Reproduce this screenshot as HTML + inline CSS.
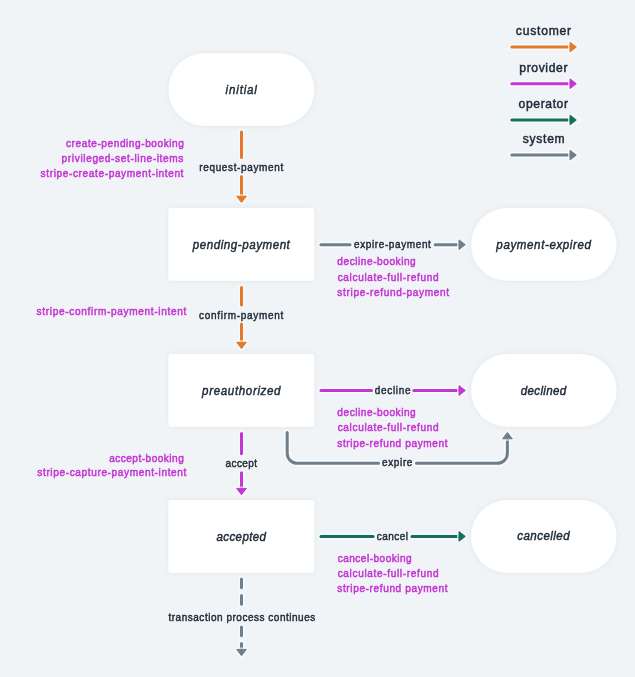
<!DOCTYPE html>
<html><head><meta charset="utf-8">
<style>
html,body{margin:0;padding:0;background:#f1f4f7;}
body{width:635px;height:677px;overflow:hidden;}
svg{display:block;will-change:transform;}
text{font-family:"Liberation Sans",sans-serif;}
.nl{font-style:italic;font-size:12.6px;fill:#202c38;stroke:#202c38;stroke-width:0.45px;}
.el{font-size:11.1px;fill:#202c38;stroke:#202c38;stroke-width:0.45px;}
.pl{font-size:11.2px;fill:#c436d3;stroke:#c436d3;stroke-width:0.55px;}
.lg{font-size:13.2px;fill:#202c38;stroke:#202c38;stroke-width:0.5px;}
.ln{fill:none;stroke-width:3;stroke-linecap:round;stroke-linejoin:round;}
.node{fill:#fff;}
.hl{fill:none;stroke:#fbfdfc;opacity:0.7;stroke-linecap:round;}
</style></head>
<body>
<svg width="635" height="677" viewBox="0 0 635 677">
<defs>
<filter id="sh" x="-20%" y="-30%" width="140%" height="160%">
<feGaussianBlur in="SourceAlpha" stdDeviation="3.2"/>
<feComponentTransfer><feFuncA type="linear" slope="0.06"/></feComponentTransfer>
<feMerge><feMergeNode/><feMergeNode in="SourceGraphic"/></feMerge>
</filter>
</defs>
<rect width="635" height="677" fill="#f1f4f7"/>
<g class="g">
<g filter="url(#sh)">
<rect class="node" x="168.5" y="53.2" width="145.7" height="72.5" rx="36"/>
<rect class="node" x="168.5" y="208" width="145.7" height="72.8" rx="3"/>
<rect class="node" x="471.1" y="208" width="145.4" height="72.8" rx="36.4"/>
<rect class="node" x="168.5" y="354" width="145.7" height="72.8" rx="3"/>
<rect class="node" x="471.1" y="354" width="145.4" height="72.8" rx="36.4"/>
<rect class="node" x="168.5" y="500" width="145.7" height="72.8" rx="3"/>
<rect class="node" x="471.1" y="500" width="145.4" height="72.8" rx="36.4"/>
</g>
<path class="hl" style="stroke-width:6px;stroke-linejoin:round" d="M511.8 47.10H570"/>
<path class="ln" stroke="#e6782b" d="M511.8 47.10H570"/>
<path class="hl" stroke-width="4" stroke-linejoin="round" d="M570.00 42.20L576.30 47.10L570.00 52.00Z"/>
<path fill="#e6782b" stroke="#e6782b" stroke-width="1" stroke-linejoin="round" d="M570.00 42.20L576.30 47.10L570.00 52.00Z"/>
<path class="hl" style="stroke-width:6px;stroke-linejoin:round" d="M511.8 83.70H570"/>
<path class="ln" stroke="#c436d3" d="M511.8 83.70H570"/>
<path class="hl" stroke-width="4" stroke-linejoin="round" d="M570.00 78.80L576.30 83.70L570.00 88.60Z"/>
<path fill="#c436d3" stroke="#c436d3" stroke-width="1" stroke-linejoin="round" d="M570.00 78.80L576.30 83.70L570.00 88.60Z"/>
<path class="hl" style="stroke-width:6px;stroke-linejoin:round" d="M511.8 120.00H570"/>
<path class="ln" stroke="#146e5b" d="M511.8 120.00H570"/>
<path class="hl" stroke-width="4" stroke-linejoin="round" d="M570.00 115.10L576.30 120.00L570.00 124.90Z"/>
<path fill="#146e5b" stroke="#146e5b" stroke-width="1" stroke-linejoin="round" d="M570.00 115.10L576.30 120.00L570.00 124.90Z"/>
<path class="hl" style="stroke-width:6px;stroke-linejoin:round" d="M511.8 155.10H570"/>
<path class="ln" stroke="#6e7f8b" d="M511.8 155.10H570"/>
<path class="hl" stroke-width="4" stroke-linejoin="round" d="M570.00 150.20L576.30 155.10L570.00 160.00Z"/>
<path fill="#6e7f8b" stroke="#6e7f8b" stroke-width="1" stroke-linejoin="round" d="M570.00 150.20L576.30 155.10L570.00 160.00Z"/>
<path class="hl" style="stroke-width:6px;stroke-linejoin:round" d="M241.5 132.1V157.6M241.5 176.6V197"/>
<path class="ln" stroke="#e6782b" d="M241.5 132.1V157.6M241.5 176.6V197"/>
<path class="hl" stroke-width="4" stroke-linejoin="round" d="M236.60 196.20L246.40 196.20L241.50 202.50Z"/>
<path fill="#e6782b" stroke="#e6782b" stroke-width="1" stroke-linejoin="round" d="M236.60 196.20L246.40 196.20L241.50 202.50Z"/>
<path class="hl" style="stroke-width:6px;stroke-linejoin:round" d="M241.5 287.6V305M241.5 324V343"/>
<path class="ln" stroke="#e6782b" d="M241.5 287.6V305M241.5 324V343"/>
<path class="hl" stroke-width="4" stroke-linejoin="round" d="M236.60 342.30L246.40 342.30L241.50 348.60Z"/>
<path fill="#e6782b" stroke="#e6782b" stroke-width="1" stroke-linejoin="round" d="M236.60 342.30L246.40 342.30L241.50 348.60Z"/>
<path class="hl" style="stroke-width:6px;stroke-linejoin:round" d="M241.5 433.4V453.7M241.5 472.8V489"/>
<path class="ln" stroke="#c436d3" d="M241.5 433.4V453.7M241.5 472.8V489"/>
<path class="hl" stroke-width="4" stroke-linejoin="round" d="M236.60 488.40L246.40 488.40L241.50 494.70Z"/>
<path fill="#c436d3" stroke="#c436d3" stroke-width="1" stroke-linejoin="round" d="M236.60 488.40L246.40 488.40L241.50 494.70Z"/>
<path class="hl" style="stroke-width:6px;stroke-linejoin:round" d="M241.5 579V587.8M241.5 595.5V604.3M241.5 627V635.8M241.5 643.5V650"/>
<path class="ln" stroke="#6e7f8b" d="M241.5 579V587.8M241.5 595.5V604.3M241.5 627V635.8M241.5 643.5V650"/>
<path class="hl" stroke-width="4" stroke-linejoin="round" d="M236.60 649.40L246.40 649.40L241.50 655.70Z"/>
<path fill="#6e7f8b" stroke="#6e7f8b" stroke-width="1" stroke-linejoin="round" d="M236.60 649.40L246.40 649.40L241.50 655.70Z"/>
<path class="hl" style="stroke-width:6px;stroke-linejoin:round" d="M320.9 244.7H350M435.1 244.7H459.5"/>
<path class="ln" stroke="#6e7f8b" d="M320.9 244.7H350M435.1 244.7H459.5"/>
<path class="hl" stroke-width="4" stroke-linejoin="round" d="M459.00 239.80L465.30 244.70L459.00 249.60Z"/>
<path fill="#6e7f8b" stroke="#6e7f8b" stroke-width="1" stroke-linejoin="round" d="M459.00 239.80L465.30 244.70L459.00 249.60Z"/>
<path class="hl" style="stroke-width:6px;stroke-linejoin:round" d="M320.9 390.5H371.5M413.8 390.5H459.5"/>
<path class="ln" stroke="#c436d3" d="M320.9 390.5H371.5M413.8 390.5H459.5"/>
<path class="hl" stroke-width="4" stroke-linejoin="round" d="M459.00 385.60L465.30 390.50L459.00 395.40Z"/>
<path fill="#c436d3" stroke="#c436d3" stroke-width="1" stroke-linejoin="round" d="M459.00 385.60L465.30 390.50L459.00 395.40Z"/>
<path class="hl" style="stroke-width:6px;stroke-linejoin:round" d="M320.9 536.4H373.2M411.9 536.4H459.5"/>
<path class="ln" stroke="#146e5b" d="M320.9 536.4H373.2M411.9 536.4H459.5"/>
<path class="hl" stroke-width="4" stroke-linejoin="round" d="M459.00 531.50L465.30 536.40L459.00 541.30Z"/>
<path fill="#146e5b" stroke="#146e5b" stroke-width="1" stroke-linejoin="round" d="M459.00 531.50L465.30 536.40L459.00 541.30Z"/>
<path class="hl" style="stroke-width:6px;stroke-linejoin:round" d="M287.2 432.5V453.3A10 10 0 0 0 297.2 463.3H378.6M416.4 463.3H497.4A10 10 0 0 0 507.4 453.3V439.5"/>
<path class="ln" stroke="#6e7f8b" d="M287.2 432.5V453.3A10 10 0 0 0 297.2 463.3H378.6M416.4 463.3H497.4A10 10 0 0 0 507.4 453.3V439.5"/>
<path class="hl" stroke-width="4" stroke-linejoin="round" d="M502.50 438.80L512.30 438.80L507.40 432.50Z"/>
<path fill="#6e7f8b" stroke="#6e7f8b" stroke-width="1" stroke-linejoin="round" d="M502.50 438.80L512.30 438.80L507.40 432.50Z"/>
</g>
<text id="n1" class="nl" transform="translate(225.61 94.10) scale(0.920 1)" text-anchor="start" letter-spacing="0.896">initial</text>
<text id="n2" class="nl" transform="translate(192.76 248.90) scale(0.920 1)" text-anchor="start" letter-spacing="0.589">pending-payment</text>
<text id="n3" class="nl" transform="translate(202.12 395.20) scale(0.920 1)" text-anchor="start" letter-spacing="0.691">preauthorized</text>
<text id="n4" class="nl" transform="translate(216.45 540.80) scale(0.920 1)" text-anchor="start" letter-spacing="0.401">accepted</text>
<text id="n5" class="nl" transform="translate(496.35 248.80) scale(0.920 1)" text-anchor="start" letter-spacing="0.649">payment-expired</text>
<text id="n6" class="nl" transform="translate(520.75 395.20) scale(0.920 1)" text-anchor="start" letter-spacing="0.353">declined</text>
<text id="n7" class="nl" transform="translate(517.21 539.90) scale(0.920 1)" text-anchor="start" letter-spacing="0.483">cancelled</text>
<text id="e1" class="el" transform="translate(199.30 171.40) scale(0.900 1)" text-anchor="start" letter-spacing="0.719">request-payment</text>
<text id="e2" class="el" transform="translate(199.07 318.60) scale(0.900 1)" text-anchor="start" letter-spacing="0.791">confirm-payment</text>
<text id="e3" class="el" transform="translate(225.53 466.80) scale(0.900 1)" text-anchor="start" letter-spacing="0.452">accept</text>
<text id="e4" class="el" transform="translate(168.46 621.20) scale(0.900 1)" text-anchor="start" letter-spacing="0.587">transaction process continues</text>
<text id="e5" class="el" transform="translate(353.98 248.30) scale(0.900 1)" text-anchor="start" letter-spacing="0.696">expire-payment</text>
<text id="e6" class="el" transform="translate(374.74 394.00) scale(0.900 1)" text-anchor="start" letter-spacing="0.764">decline</text>
<text id="e7" class="el" transform="translate(376.65 539.90) scale(0.900 1)" text-anchor="start" letter-spacing="0.568">cancel</text>
<text id="e8" class="el" transform="translate(382.01 466.10) scale(0.900 1)" text-anchor="start" letter-spacing="0.715">expire</text>
<text id="l1" class="lg" transform="translate(515.80 35.30) scale(0.920 1)" text-anchor="start" letter-spacing="0.846">customer</text>
<text id="l2" class="lg" transform="translate(519.26 71.70) scale(0.920 1)" text-anchor="start" letter-spacing="0.671">provider</text>
<text id="l3" class="lg" transform="translate(518.57 107.80) scale(0.920 1)" text-anchor="start" letter-spacing="0.660">operator</text>
<text id="l4" class="lg" transform="translate(522.82 143.00) scale(0.920 1)" text-anchor="start" letter-spacing="0.752">system</text>
<text id="p1" class="pl" transform="translate(184.44 147.10) scale(0.900 1)" text-anchor="end" letter-spacing="0.639">create-pending-booking</text>
<text id="p2" class="pl" transform="translate(183.98 162.20) scale(0.900 1)" text-anchor="end" letter-spacing="0.715">privileged-set-line-items</text>
<text id="p3" class="pl" transform="translate(184.05 176.90) scale(0.900 1)" text-anchor="end" letter-spacing="0.698">stripe-create-payment-intent</text>
<text id="p4" class="pl" transform="translate(187.05 315.10) scale(0.900 1)" text-anchor="end" letter-spacing="0.749">stripe-confirm-payment-intent</text>
<text id="p5" class="pl" transform="translate(184.26 461.70) scale(0.900 1)" text-anchor="end" letter-spacing="0.543">accept-booking</text>
<text id="p6" class="pl" transform="translate(186.95 476.20) scale(0.900 1)" text-anchor="end" letter-spacing="0.696">stripe-capture-payment-intent</text>
<text id="q1" class="pl" transform="translate(337.37 265.40) scale(0.900 1)" text-anchor="start" letter-spacing="0.621">decline-booking</text>
<text id="q2" class="pl" transform="translate(337.64 280.80) scale(0.900 1)" text-anchor="start" letter-spacing="0.722">calculate-full-refund</text>
<text id="q3" class="pl" transform="translate(337.30 296.00) scale(0.900 1)" text-anchor="start" letter-spacing="0.743">stripe-refund-payment</text>
<text id="r1" class="pl" transform="translate(337.37 416.10) scale(0.900 1)" text-anchor="start" letter-spacing="0.621">decline-booking</text>
<text id="r2" class="pl" transform="translate(337.64 431.30) scale(0.900 1)" text-anchor="start" letter-spacing="0.722">calculate-full-refund</text>
<text id="r3" class="pl" transform="translate(337.29 446.50) scale(0.900 1)" text-anchor="start" letter-spacing="0.684">stripe-refund payment</text>
<text id="s1" class="pl" transform="translate(337.64 561.80) scale(0.900 1)" text-anchor="start" letter-spacing="0.544">cancel-booking</text>
<text id="s2" class="pl" transform="translate(337.64 576.90) scale(0.900 1)" text-anchor="start" letter-spacing="0.722">calculate-full-refund</text>
<text id="s3" class="pl" transform="translate(337.29 592.30) scale(0.900 1)" text-anchor="start" letter-spacing="0.684">stripe-refund payment</text>
</svg>
</body></html>
